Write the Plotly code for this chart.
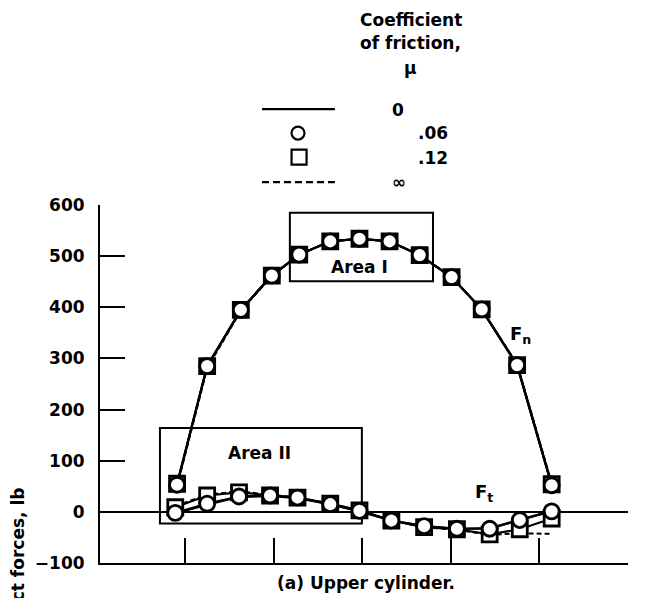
import plotly.graph_objects as go

# ---- data ----
x_fn = [-0.09, 0.25, 0.63, 0.98, 1.29, 1.64, 1.97, 2.31, 2.65, 3.01, 3.35, 3.75, 4.14]
x_ft = [-0.11, 0.25, 0.61, 0.96, 1.27, 1.64, 1.97, 2.33, 2.70, 3.07, 3.44, 3.78, 4.14]

fn_mu0 = [53, 285, 395, 462, 503, 529, 534, 529, 502, 459, 396, 287, 52]
fn_mu006 = [53, 285, 395, 462, 503, 529, 534, 529, 502, 459, 396, 287, 52]
fn_mu012 = [55, 285, 395, 462, 503, 529, 534, 529, 502, 459, 396, 287, 54]
fn_muinf = [50, 281, 393, 461, 503, 529, 534, 529, 502, 459, 396, 289, 56]

ft_mu0 = [-3, 14, 29, 31, 27, 15, 1, -17, -28, -33, -32, -15, 2]
ft_mu006 = [-2, 16, 30, 32, 28, 15, 2, -17, -28, -33, -33, -16, 1]
ft_mu012 = [9, 32, 38, 32, 28, 16, 3, -17, -30, -34, -44, -34, -13]
ft_muinf = [11, 34, 40, 33, 28, 16, 3, -17, -30, -35, -45, -42, -43]

x_ticks = [0, 1, 2, 3, 4, 5]
y_ticks = [-100, 0, 100, 200, 300, 400, 500, 600]

legend_title = ["Coefficient", "of friction,", "\u03bc"]
legend_labels = ["0", ".06", ".12", "\u221e"]

FONT = "DejaVu Sans"
BLACK = "black"

def bfont(size=17):
    return dict(family=FONT, size=size, color=BLACK, weight="bold")

fig = go.Figure()

def add_series(x, y, kind):
    if kind == "inf":
        fig.add_trace(go.Scatter(x=x, y=y, mode="lines",
                                 line=dict(color=BLACK, width=2, dash="5px,3px"),
                                 showlegend=False, hoverinfo="skip"))
    elif kind == "zero":
        fig.add_trace(go.Scatter(x=x, y=y, mode="lines",
                                 line=dict(color=BLACK, width=2.2),
                                 showlegend=False, hoverinfo="skip"))
    elif kind == "square":
        fig.add_trace(go.Scatter(x=x, y=y, mode="lines+markers",
                                 line=dict(color=BLACK, width=2.2),
                                 marker=dict(symbol="square", size=15, color="white",
                                             line=dict(color=BLACK, width=2.8)),
                                 showlegend=False, hoverinfo="skip"))
    elif kind == "circle":
        fig.add_trace(go.Scatter(x=x, y=y, mode="lines+markers",
                                 line=dict(color=BLACK, width=2.2),
                                 marker=dict(symbol="circle", size=15, color="white",
                                             line=dict(color=BLACK, width=2.8)),
                                 showlegend=False, hoverinfo="skip"))

# Fn curves
add_series(x_fn, fn_muinf, "inf")
add_series(x_fn, fn_mu0, "zero")
add_series(x_fn, fn_mu012, "square")
add_series(x_fn, fn_mu006, "circle")
# Ft curves
add_series(x_ft, ft_muinf, "inf")
add_series(x_ft, ft_mu0, "zero")
add_series(x_ft, ft_mu012, "square")
add_series(x_ft, ft_mu006, "circle")

shapes = []
# Area boxes (data coords)
shapes.append(dict(type="rect", xref="x", yref="y", x0=1.184, x1=2.80, y0=451, y1=585,
                   line=dict(color=BLACK, width=2), fillcolor="rgba(0,0,0,0)", layer="below"))
shapes.append(dict(type="rect", xref="x", yref="y", x0=-0.283, x1=1.997, y0=-23, y1=164,
                   line=dict(color=BLACK, width=2), fillcolor="rgba(0,0,0,0)", layer="below"))

# Legend samples (paper coords)
shapes.append(dict(type="line", xref="paper", yref="paper", x0=0.3068, x1=0.445, y0=1.268, y1=1.268,
                   line=dict(color=BLACK, width=2.2)))
shapes.append(dict(type="circle", xref="paper", yref="paper", xsizemode="pixel", ysizemode="pixel",
                   xanchor=0.375, yanchor=1.201, x0=-6.5, x1=6.5, y0=-6.5, y1=6.5,
                   line=dict(color=BLACK, width=2.2)))
shapes.append(dict(type="rect", xref="paper", yref="paper", xsizemode="pixel", ysizemode="pixel",
                   xanchor=0.377, yanchor=1.134, x0=-7.5, x1=7.5, y0=-7.5, y1=7.5,
                   line=dict(color=BLACK, width=2.2)))
shapes.append(dict(type="line", xref="paper", yref="paper", x0=0.3068, x1=0.445, y0=1.064, y1=1.064,
                   line=dict(color=BLACK, width=2.2, dash="7px,4px")))

annotations = []
# legend title
for txt, py in zip(legend_title, [1.517, 1.453, 1.383]):
    annotations.append(dict(text=txt, xref="paper", yref="paper", x=0.589, y=py,
                            showarrow=False, xanchor="center", yanchor="middle", font=bfont(17)))
# legend labels
for txt, px, py in zip(legend_labels, [0.564, 0.631, 0.631, 0.566], [1.265, 1.201, 1.131, 1.064]):
    annotations.append(dict(text=txt, xref="paper", yref="paper", x=px, y=py,
                            showarrow=False, xanchor="center", yanchor="middle", font=bfont(17)))

# in-plot labels
annotations.append(dict(text="Area I", xref="x", yref="y", x=1.97, y=478, showarrow=False,
                        xanchor="center", yanchor="middle", font=bfont(17)))
annotations.append(dict(text="Area II", xref="x", yref="y", x=0.846, y=115, showarrow=False,
                        xanchor="center", yanchor="middle", font=bfont(17)))
annotations.append(dict(text="F<sub>n</sub>", xref="x", yref="y", x=3.645, y=345, showarrow=False,
                        xanchor="left", yanchor="middle", font=bfont(18)))
annotations.append(dict(text="F<sub>t</sub>", xref="x", yref="y", x=3.25, y=36, showarrow=False,
                        xanchor="left", yanchor="middle", font=bfont(18)))

# caption and axis title
annotations.append(dict(text="(a) Upper cylinder.", xref="paper", yref="paper", x=0.504, y=-0.056,
                        showarrow=False, xanchor="center", yanchor="middle", font=bfont(17)))
annotations.append(dict(text="Contact forces, lb", xref="paper", yref="paper", x=-0.155, y=-0.025,
                        showarrow=False, xanchor="center", yanchor="middle", textangle=-90,
                        font=bfont(17)))

fig.update_layout(
    width=645, height=598, autosize=False,
    margin=dict(l=100, r=17, t=205, b=35, pad=0),
    paper_bgcolor="white", plot_bgcolor="white",
    font=bfont(17),
    showlegend=False,
    shapes=shapes,
    annotations=annotations,
    xaxis=dict(range=[-0.96, 5.002], tickmode="array", tickvals=x_ticks, showticklabels=False,
               ticks="inside", ticklen=25, tickwidth=2, tickcolor=BLACK,
               showline=True, linewidth=2, linecolor=BLACK, showgrid=False, zeroline=False),
    yaxis=dict(range=[-100, 600], tickmode="array", tickvals=y_ticks,
               ticks="inside", ticklen=25, tickwidth=2, tickcolor=BLACK,
               showline=True, linewidth=2, linecolor=BLACK, showgrid=False,
               zeroline=True, zerolinecolor=BLACK, zerolinewidth=1.6,
               tickfont=bfont(17), ticklabelstandoff=10),
)

fig.write_html("out.html")
